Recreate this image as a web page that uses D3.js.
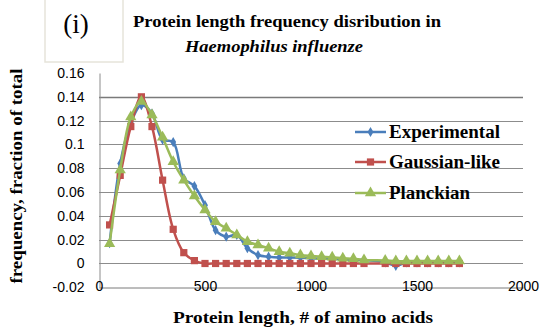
<!DOCTYPE html>
<html><head><meta charset="utf-8">
<script src="https://cdn.jsdelivr.net/npm/d3@7"></script>
<style>body{margin:0;background:#fff}svg{display:block}
.serif{font-family:"Times New Roman","Liberation Serif",Tinos,"DejaVu Serif",serif}</style>
</head><body>
<svg id="c" width="540" height="331"></svg>
<script>
const lengths = [50,100,150,200,250,300,350,400,450,500,550,600,650,700,750,800,850,900,950,1000,1050,1100,1150,1200,1250,1350,1400,1450,1500,1550,1600,1650,1700];
const experimental = [0.017,0.084,0.118,0.133,0.126,0.104,0.102,0.0716,0.065,0.049,0.028,0.0225,0.024,0.0128,0.0071,0.0057,0.005,0.005,0.0048,0.0045,0.004,0.004,0.0035,0.003,0.003,0.001,-0.002,0.001,0.001,0.001,0.001,0.001,0.001];
const gaussian = [0.0324,0.0740,0.115,0.140,0.115,0.070,0.0287,0.0091,0.0024,0,0,0,0,0,0,0,0,0,0,0,0,0,0,0,0,0,0,0,0,0,0,0,0];
const planckian = [0.0165,0.0786,0.123,0.136,0.1248,0.106,0.0855,0.070,0.0567,0.045,0.035,0.0296,0.024,0.0183,0.0155,0.0128,0.0099,0.0086,0.0071,0.0063,0.0057,0.0052,0.0044,0.004,0.003,0.0025,0.002,0.002,0.002,0.002,0.002,0.002,0.002];
const seriesNames = ["Experimental","Gaussian-like","Planckian"];
const seriesColors = ["#4A7EBB","#C0504D","#9BBB59"];
const xTicks = [0,500,1000,1500,2000];
const yTicks = [-0.02,0,0.02,0.04,0.06,0.08,0.1,0.12,0.14,0.16];
const titleLine1 = "Protein length frequency disribution in";
const titleLine2 = "Haemophilus influenze";
const panelLabel = "(i)";
const xTitle = "Protein length, # of amino acids";
const yTitle = "frequency, fraction of total";

const svg = d3.select("#c");
const x = d3.scaleLinear().domain([0,2000]).range([99,523]);
const y = d3.scaleLinear().domain([-0.02,0.16]).range([287.3,73]);

// panel label box
svg.append("rect").attr("x",45).attr("y",-2).attr("width",78).attr("height",64)
  .attr("fill","#fff").attr("stroke","#e6e4da").attr("stroke-width",1.5);
svg.append("text").attr("class","serif").attr("x",76).attr("y",33).attr("text-anchor","middle")
  .attr("font-size",27).text(panelLabel);

// title
svg.append("text").attr("class","serif").attr("x",287).attr("y",27).attr("text-anchor","middle")
  .attr("font-weight","bold").attr("font-size",17)
  .attr("textLength",308).attr("lengthAdjust","spacingAndGlyphs").text(titleLine1);
svg.append("text").attr("class","serif").attr("x",274).attr("y",52).attr("text-anchor","middle")
  .attr("font-weight","bold").attr("font-style","italic").attr("font-size",16)
  .attr("textLength",178).attr("lengthAdjust","spacingAndGlyphs").text(titleLine2);

// gridlines
svg.append("g").selectAll("line").data(yTicks.filter(t=>t>-0.02 && t<0.16)).join("line")
  .attr("x1",99).attr("x2",523).attr("y1",d=>Math.round(y(d))+0.5).attr("y2",d=>Math.round(y(d))+0.5)
  .attr("stroke",d=>Math.abs(d-0.14)<1e-9?"#7a7a7a":"#8c8c8c").attr("stroke-width",d=>Math.abs(d-0.14)<1e-9?1.6:1);

// axes
const yAxis = d3.axisLeft(y).tickValues(yTicks).tickSize(0).tickPadding(15)
  .tickFormat(d=>d===0?"0":String(+d.toFixed(2)));
const gy = svg.append("g").attr("transform","translate(99.5,0)").call(yAxis);
gy.select(".domain").attr("stroke","#8c8c8c");
gy.selectAll("text").attr("font-family","Liberation Sans").attr("font-size",14).attr("fill","#000");

const xAxis = d3.axisBottom(x).tickValues(xTicks).tickSize(0).tickPadding(0).tickFormat(d3.format("d"));
const gx = svg.append("g").attr("transform","translate(0,"+(Math.round(y(-0.02))+0.5)+")").call(xAxis);
gx.select(".domain").attr("stroke","#7a7a7a");
gx.selectAll("text").attr("font-family","Liberation Sans").attr("font-size",14).attr("fill","#000")
  .attr("dy",null).attr("y",3);

// axis titles
svg.append("text").attr("class","serif").attr("x",303).attr("y",323).attr("text-anchor","middle")
  .attr("font-weight","bold").attr("font-size",17)
  .attr("textLength",260).attr("lengthAdjust","spacingAndGlyphs").text(xTitle);
svg.append("text").attr("class","serif").attr("transform","translate(22,176) rotate(-90)").attr("text-anchor","middle")
  .attr("font-weight","bold").attr("font-size",17)
  .attr("textLength",215).attr("lengthAdjust","spacingAndGlyphs").text(yTitle);

// series
const data = [experimental, gaussian, planckian];
const line = d3.line().x((d,i)=>x(lengths[i])).y(d=>y(d)).curve(d3.curveCatmullRom.alpha(0.5));
const symbols = [d3.symbolDiamond, d3.symbolSquare, d3.symbolTriangle];
const sizes = [30, 52, 55];
data.forEach((vals,si)=>{
  const g = svg.append("g");
  g.append("path").attr("d",line(vals)).attr("fill","none").attr("stroke",seriesColors[si]).attr("stroke-width",2.5);
  g.selectAll("path.m").data(vals).join("path").attr("class","m")
    .attr("transform",(d,i)=>"translate("+x(lengths[i])+","+y(d)+")")
    .attr("d",d3.symbol().type(symbols[si]).size(sizes[si])).attr("fill",seriesColors[si]);
});

// legend
const legY = [132,162,193];
const legW = [111,111,81];
seriesNames.forEach((n,i)=>{
  const g = svg.append("g");
  g.append("line").attr("x1",355).attr("x2",386).attr("y1",legY[i]).attr("y2",legY[i])
    .attr("stroke",seriesColors[i]).attr("stroke-width",2.5);
  g.append("path").attr("transform","translate(370.5,"+legY[i]+")")
    .attr("d",d3.symbol().type(symbols[i]).size(sizes[i])).attr("fill",seriesColors[i]);
  g.append("text").attr("class","serif").attr("x",389).attr("y",legY[i]+6)
    .attr("font-weight","bold").attr("font-size",18)
    .attr("textLength",legW[i]).attr("lengthAdjust","spacingAndGlyphs").text(n);
});
</script>
</body></html>
